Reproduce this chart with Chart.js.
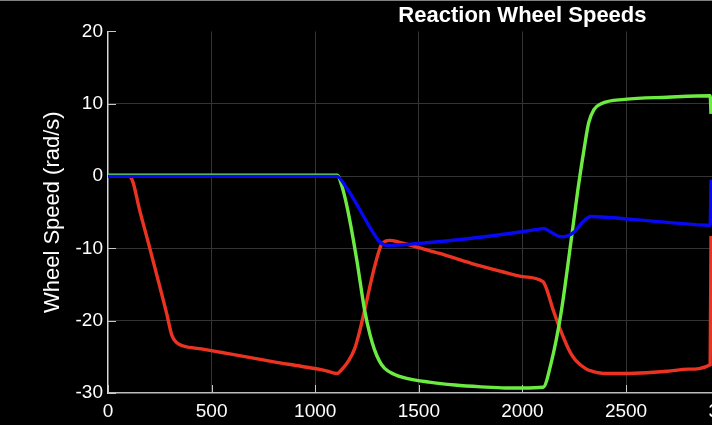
<!DOCTYPE html>
<html>
<head>
<meta charset="utf-8">
<script src="https://cdn.jsdelivr.net/npm/chart.js@4.4.1/dist/chart.umd.min.js"></script>
<style>
  html, body { margin: 0; padding: 0; background: #000; overflow: hidden; }
  #wrap { position: relative; width: 712px; height: 425px; overflow: hidden; }
  #edge { position: absolute; left: 0; top: 0; width: 712px; height: 425px; box-sizing: border-box;
          border-top: 1px solid #808080; pointer-events: none; }
</style>
</head>
<body>
<div id="wrap">
  <canvas id="wheel-chart" width="965" height="425"></canvas>
  <div id="edge"></div>
</div>
<script>
// wheel speeds (rad/s), time in seconds
const redTime = [0, 100, 120, 150, 200, 250, 283, 308, 330, 364, 450, 550, 688, 800, 931, 1050, 1105,
  1130, 1160, 1190, 1215, 1238, 1286, 1319, 1340, 1360, 1400, 1500, 1600, 1756, 1900, 2000, 2099,
  2115, 2148, 2177, 2229, 2257, 2309, 2338, 2400, 2500, 2600, 2700, 2800, 2906, 2910];
const redSpeed = [0, 0, -0.8, -4.4, -9.8, -15.3, -19.0, -22.0, -23.0, -23.5, -23.9, -24.4, -25.1, -25.7, -26.3, -26.9, -27.3,
  -26.7, -25.6, -23.9, -21.4, -18.6, -12.6, -9.5, -9.0, -8.9, -9.1, -9.9, -10.7, -12.1, -13.2, -13.9, -14.6,
  -15.5, -18.5, -20.8, -24.3, -25.5, -26.7, -27.0, -27.3, -27.3, -27.2, -27.0, -26.7, -26.1, -8.3];

const greenTime = [0, 1105, 1130, 1157, 1200, 1238, 1265, 1286, 1310, 1335, 1380, 1432, 1550, 1674, 1800, 1917,
  2000, 2100, 2138, 2186, 2235, 2267, 2299, 2320, 2345, 2380, 2493, 2700, 2906, 2910];
const greenSpeed = [0.1, 0.1, -1.5, -4.7, -11.5, -18.5, -22.0, -24.0, -25.6, -26.6, -27.4, -27.9, -28.5, -28.9, -29.15, -29.3,
  -29.3, -29.2, -25.9, -19.0, -8.9, -2.0, 4.0, 7.4, 9.2, 10.0, 10.6, 10.9, 11.1, 8.6];

const blueTime = [0, 1105, 1150, 1190, 1254, 1290, 1311, 1351, 1400, 1512, 1756, 1998, 2080, 2104,
  2140, 2185, 2215, 2251, 2290, 2331, 2400, 2493, 2700, 2906, 2910];
const blueSpeed = [-0.05, -0.05, -1.6, -3.4, -6.6, -8.3, -9.1, -9.6, -9.55, -9.3, -8.6, -7.7, -7.35, -7.25,
  -7.8, -8.4, -8.3, -7.7, -6.4, -5.6, -5.7, -5.9, -6.4, -6.8, -0.5];

const yTicks = [20, 10, 0, -10, -20, -30];
const xTicks = [0, 500, 1000, 1500, 2000, 2500, 3000, 3500, 4000];

function toPoints(times, values) {
    return times.map((t, i) => ({ x: t, y: values[i] }));
}

// MATLAB style ticks pointing into the plot, drawn under the lines
const inwardTicks = {
    id: 'inwardTicks',
    beforeDatasetsDraw(chart) {
        const { ctx, chartArea, scales } = chart;
        ctx.save();
        ctx.strokeStyle = '#c8c8c8';
        ctx.lineWidth = 1;
        ctx.beginPath();
        xTicks.forEach(v => {
            const px = Math.round(scales.x.getPixelForValue(v)) + 0.5;
            ctx.moveTo(px, chartArea.bottom);
            ctx.lineTo(px, chartArea.bottom - 8);
        });
        yTicks.forEach(v => {
            const py = Math.round(scales.y.getPixelForValue(v)) + 0.5;
            ctx.moveTo(chartArea.left, py);
            ctx.lineTo(chartArea.left + 8, py);
        });
        ctx.stroke();
        ctx.restore();
    }
};

const gridColor = 'rgb(52,52,52)';
const fontFamily = '"Liberation Sans", Arial, Helvetica, sans-serif';

const ctx = document.getElementById('wheel-chart').getContext('2d');
new Chart(ctx, {
    type: 'line',
    data: {
        datasets: [
            { label: 'Wheel 3', data: toPoints(blueTime, blueSpeed), borderColor: '#0808f2' },
            { label: 'Wheel 2', data: toPoints(greenTime, greenSpeed), borderColor: '#6cec40' },
            { label: 'Wheel 1', data: toPoints(redTime, redSpeed), borderColor: '#ec3322' }
        ]
    },
    options: {
        responsive: false,
        animation: false,
        devicePixelRatio: 1,
        layout: { padding: 0 },
        elements: {
            line: { borderWidth: 3.4, cubicInterpolationMode: 'monotone' },
            point: { radius: 0 }
        },
        plugins: {
            legend: { display: false },
            tooltip: { enabled: false },
            title: {
                display: true,
                text: 'Reaction Wheel Speeds',
                color: '#ffffff',
                fullSize: false,
                font: { family: fontFamily, size: 22, weight: 'bold' },
                padding: { top: 3, bottom: 2 }
            }
        },
        scales: {
            x: {
                type: 'linear',
                min: 0,
                max: 4000,
                afterFit: scale => { scale.height = 32; },
                afterBuildTicks: scale => { scale.ticks = xTicks.map(v => ({ value: v })); },
                ticks: {
                    color: '#ffffff',
                    font: { family: fontFamily, size: 19 },
                    padding: 7,
                    maxRotation: 0,
                    callback: v => String(v)
                },
                grid: {
                    drawTicks: false,
                    color: c => (c.tick && c.tick.value === 0 ? 'transparent' : gridColor)
                },
                border: { color: '#bdbdbd', width: 1.5 }
            },
            y: {
                min: -30,
                max: 20,
                afterFit: scale => { scale.width = 108; },
                afterBuildTicks: scale => { scale.ticks = yTicks.map(v => ({ value: v })); },
                ticks: { color: '#ffffff', font: { family: fontFamily, size: 19 }, padding: 5, callback: v => String(v) },
                grid: {
                    drawTicks: false,
                    color: c => (c.tick && (c.tick.value === 20 || c.tick.value === -30) ? 'transparent' : gridColor)
                },
                border: { color: '#d8d8d8', width: 1.5 },
                title: {
                    display: true,
                    text: 'Wheel Speed (rad/s)',
                    color: '#ffffff',
                    font: { family: fontFamily, size: 22 },
                    padding: { top: 40, bottom: 0 }
                }
            }
        }
    },
    plugins: [inwardTicks]
});
</script>
</body>
</html>
